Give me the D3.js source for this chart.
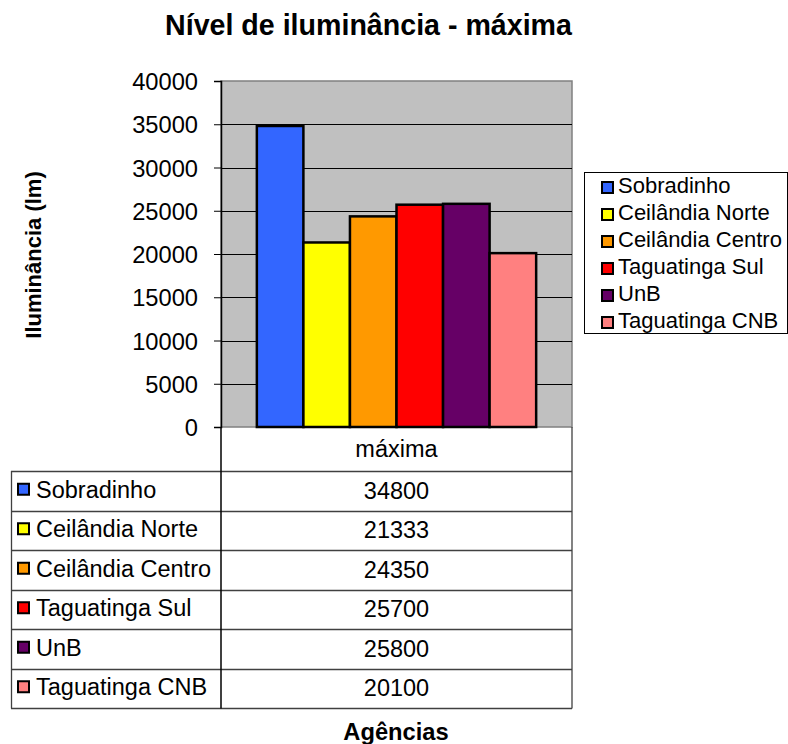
<!DOCTYPE html>
<html>
<head>
<meta charset="utf-8">
<script src="https://cdn.jsdelivr.net/npm/d3@7"></script>
<style>
  html, body { margin: 0; padding: 0; background: #fff; }
  svg { display: block; font-family: "Liberation Sans", Arial, sans-serif; }
</style>
</head>
<body>
<svg id="chart" width="788" height="744"></svg>
<script>
// Illuminance readings (max) per agency
const agencies = ["Sobradinho", "Ceilândia Norte", "Ceilândia Centro", "Taguatinga Sul", "UnB", "Taguatinga CNB"];
const values = [34800, 21333, 24350, 25700, 25800, 20100];
const colors = ["#3366ff", "#ffff00", "#ff9900", "#ff0000", "#660066", "#ff8080"];
const category = "máxima";
const yTicks = [0, 5000, 10000, 15000, 20000, 25000, 30000, 35000, 40000];

const svg = d3.select("#chart");
const plot = { left: 221, right: 572, top: 81, bottom: 427 };

const y = d3.scaleLinear().domain([0, 40000]).range([plot.bottom, plot.top]);
const xOuter = d3.scaleBand().domain([category]).range([plot.left, plot.right]).paddingInner(0).paddingOuter(0);
const xInner = d3.scaleBand().domain(agencies).range([0, xOuter.bandwidth()]).paddingOuter(0.77).paddingInner(0);

// Title
svg.append("text").attr("x", 368.5).attr("y", 35).attr("text-anchor", "middle")
  .attr("font-size", 28.6).attr("font-weight", "bold").text("Nível de iluminância - máxima");

// Plot background
svg.append("rect").attr("x", plot.left).attr("y", plot.top)
  .attr("width", plot.right - plot.left).attr("height", plot.bottom - plot.top)
  .attr("fill", "#c0c0c0").attr("stroke", "#808080").attr("stroke-width", 1.5);

// Gridlines
svg.append("g").selectAll("line").data(yTicks.filter(d => d > 0 && d < 40000)).join("line")
  .attr("x1", plot.left).attr("x2", plot.right)
  .attr("y1", d => Math.round(y(d)) + 0.5).attr("y2", d => Math.round(y(d)) + 0.5)
  .attr("stroke", "#000").attr("stroke-width", 1);

// Y axis
const yAxis = d3.axisLeft(y).tickValues(yTicks).tickSize(7).tickPadding(16).tickFormat(d3.format("d"));
const gy = svg.append("g").attr("transform", `translate(${plot.left},0)`).call(yAxis);
gy.select(".domain").attr("stroke", "#000").attr("stroke-width", 1.5);
gy.selectAll(".tick line").attr("stroke", "#000");
gy.selectAll(".tick text").attr("font-size", 23.7).attr("fill", "#000").attr("dy", "0.36em")
  .attr("font-family", "'Liberation Sans', Arial, sans-serif");

// Bars
svg.append("g").selectAll("rect").data(agencies).join("rect")
  .attr("x", (d) => xOuter(category) + xInner(d))
  .attr("y", (d, i) => y(values[i]))
  .attr("width", xInner.bandwidth())
  .attr("height", (d, i) => y(0) - y(values[i]))
  .attr("fill", (d, i) => colors[i])
  .attr("stroke", "#000").attr("stroke-width", 2.5);

// Y axis title
svg.append("text").attr("transform", "translate(41,255) rotate(-90)")
  .attr("text-anchor", "middle").attr("font-size", 22).attr("font-weight", "bold")
  .text("Iluminância (lm)");

// Legend
const legend = svg.append("g");
legend.append("rect").attr("x", 584.5).attr("y", 172.5).attr("width", 203).attr("height", 161)
  .attr("fill", "#fff").attr("stroke", "#000");
const li = legend.selectAll("g").data(agencies).join("g")
  .attr("transform", (d, i) => `translate(0,${193 + i * 27})`);
li.append("rect").attr("x", 602).attr("y", -11).attr("width", 11).attr("height", 11)
  .attr("fill", (d, i) => colors[i]).attr("stroke", "#000").attr("stroke-width", 2);
li.append("text").attr("x", 618).attr("y", 0).attr("font-size", 22).text(d => d);

// Data table
const table = svg.append("g");
const rowTop = 471, rowH = 39.5, tableLeft = 11;
const gridColor = "#404040";
// header cell
table.append("text").attr("x", (plot.left + plot.right) / 2).attr("y", 457)
  .attr("text-anchor", "middle").attr("font-size", 23.5).text(category);
// horizontal lines
const hLines = d3.range(agencies.length + 1).map(i => rowTop + i * rowH);
table.selectAll("line.h").data(hLines).join("line").attr("class", "h")
  .attr("x1", tableLeft).attr("x2", plot.right)
  .attr("y1", d => Math.round(d) + 0.5).attr("y2", d => Math.round(d) + 0.5)
  .attr("stroke", gridColor).attr("stroke-width", 1.3);
// vertical lines
const tableBottom = Math.round(rowTop + agencies.length * rowH) + 0.5;
table.append("line").attr("x1", tableLeft + 0.5).attr("x2", tableLeft + 0.5)
  .attr("y1", rowTop).attr("y2", tableBottom).attr("stroke", gridColor).attr("stroke-width", 1.3);
table.append("line").attr("x1", plot.left).attr("x2", plot.left)
  .attr("y1", plot.bottom).attr("y2", tableBottom).attr("stroke", "#000").attr("stroke-width", 1.5);
table.append("line").attr("x1", plot.right).attr("x2", plot.right)
  .attr("y1", plot.bottom).attr("y2", tableBottom).attr("stroke", gridColor).attr("stroke-width", 1.3);
// rows
const rows = table.selectAll("g.row").data(agencies).join("g").attr("class", "row")
  .attr("transform", (d, i) => `translate(0,${rowTop + i * rowH + rowH / 2})`);
rows.append("rect").attr("x", 18).attr("y", -7).attr("width", 11).attr("height", 11)
  .attr("fill", (d, i) => colors[i]).attr("stroke", "#000").attr("stroke-width", 2);
rows.append("text").attr("x", 36).attr("y", 7).attr("font-size", 23.5).text(d => d);
rows.append("text").attr("x", (plot.left + plot.right) / 2).attr("y", 8)
  .attr("text-anchor", "middle").attr("font-size", 23.5).text((d, i) => values[i]);

// X axis title
svg.append("text").attr("x", 396).attr("y", 740).attr("text-anchor", "middle")
  .attr("font-size", 23.7).attr("font-weight", "bold").text("Agências");
</script>
</body>
</html>
